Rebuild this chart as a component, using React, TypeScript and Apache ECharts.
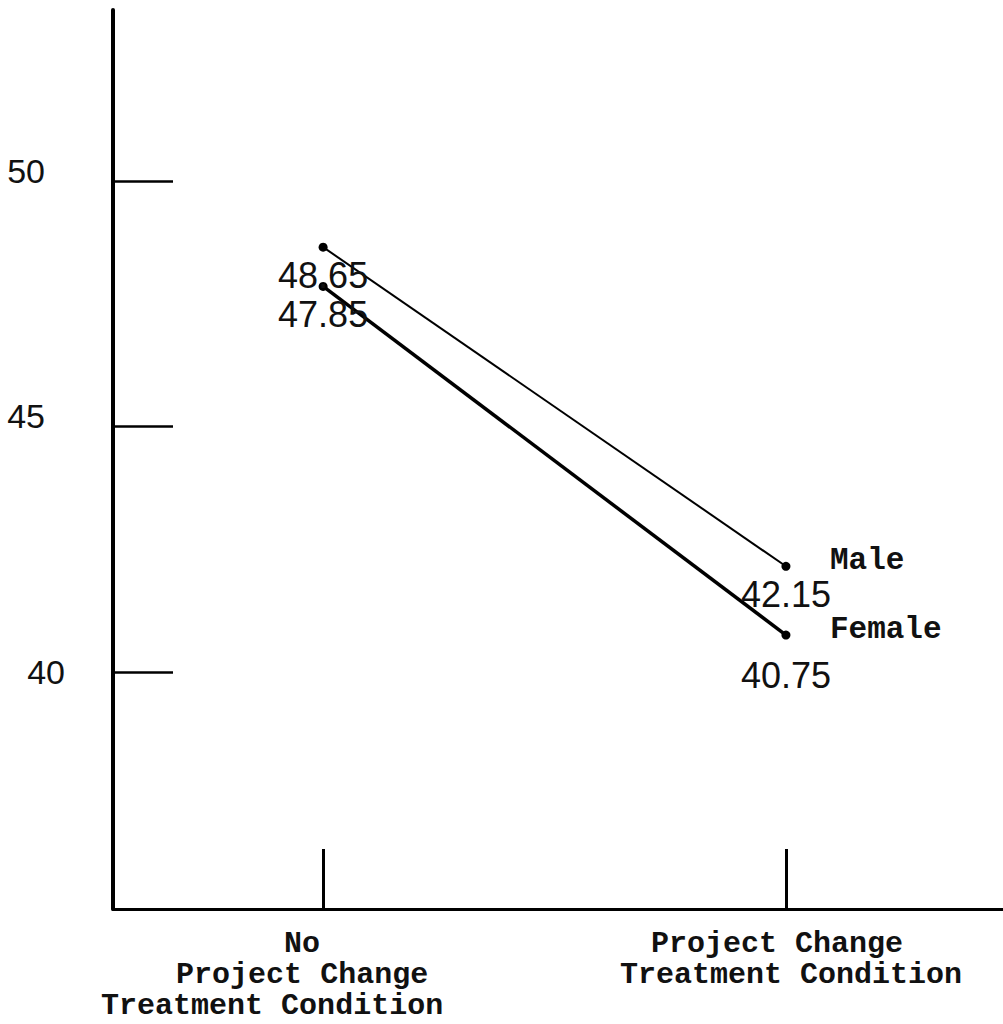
import React, { useEffect, useRef } from "react";
import * as echarts from "echarts";

const categories = ["No\nProject Change\nTreatment Condition", "Project Change\nTreatment Condition"];
const xPositions = [1, 2];
const seriesNames = ["Male", "Female"];
const maleValues = [48.65, 42.15];
const femaleValues = [47.85, 40.75];
const yTickValues = [40, 45, 50];

export default function App() {
  const ref = useRef<HTMLDivElement>(null);
  useEffect(() => {
    if (!ref.current) return;
    const chart = echarts.init(ref.current, null, { renderer: "svg" });
    const mono = "Liberation Mono";
    const hand = "Liberation Sans";
    const valueLabel = (dist: number) => ({
      show: true,
      position: "bottom",
      distance: dist,
      fontFamily: hand,
      fontSize: 36,
      color: "#111",
      formatter: (p: any) => Number(p.value[1]).toFixed(2),
    });
    const mk = (name: string, vals: number[], width: number, dists: number[]) => ({
      type: "line",
      name,
      data: xPositions.map((x, i) => ({ value: [x, vals[i]], label: valueLabel(dists[i]) })),
      symbol: "circle",
      symbolSize: 9,
      itemStyle: { color: "#000" },
      lineStyle: { color: "#000", width },
      endLabel: {
        show: true,
        formatter: "{a}",
        distance: 44,
        offset: [0, -6],
        fontFamily: mono,
        fontWeight: "bold",
        fontSize: 31,
        color: "#111",
      },
    });
    const xl = { fontFamily: mono, fontWeight: "bold", fontSize: 30, lineHeight: 31, color: "#111" };
    chart.setOption({
      animation: false,
      backgroundColor: "#fff",
      grid: { left: 113, right: 0, top: 10, bottom: 115, containLabel: false },
      xAxis: {
        type: "value",
        min: 0.546,
        max: 2.469,
        splitLine: { show: false },
        axisLine: { show: true, lineStyle: { color: "#000", width: 3 } },
        axisTick: {
          show: true,
          inside: true,
          length: 60,
          customValues: xPositions,
          lineStyle: { color: "#000", width: 3 },
        },
        axisLabel: {
          show: true,
          customValues: xPositions,
          margin: 19,
          ...xl,
          formatter: (v: number) => {
            const idx = xPositions.indexOf(v);
            if (idx < 0) return "";
            const lines = categories[idx].split("\n");
            if (idx === 0) {
              return lines
                .map((l, i) => (i === lines.length - 1 ? `{b|${l}}` : `{a|${l}}`))
                .join("\n");
            }
            return lines.map((l, i) => (i === 0 ? `{c|${l}}` : `{d|${l}}`)).join("\n");
          },
          rich: {
            a: { ...xl, padding: [0, 42, 0, 0] },
            b: { ...xl, padding: [0, 102, 0, 0] },
            c: { ...xl, padding: [0, 18, 0, 0] },
            d: { ...xl, padding: [0, 0, 0, 10] },
          },
        },
      },
      yAxis: {
        type: "value",
        min: 35.17,
        max: 53.48,
        splitLine: { show: false },
        axisLine: { show: true, lineStyle: { color: "#000", width: 4 } },
        axisTick: {
          show: true,
          inside: true,
          length: 60,
          customValues: yTickValues,
          lineStyle: { color: "#000", width: 2.5 },
        },
        axisLabel: {
          show: true,
          customValues: yTickValues,
          margin: 48,
          fontFamily: hand,
          fontSize: 34,
          color: "#111",
          formatter: (v: number) => (v === 40 ? `{b|${v}}` : `{a|${v}}`),
          rich: {
            a: { fontFamily: hand, fontSize: 34, color: "#111", padding: [0, 20, 20, 0] },
            b: { fontFamily: hand, fontSize: 34, color: "#111", padding: [0, 0, 0, 0] },
          },
        },
      },
      series: [
        mk(seriesNames[0], maleValues, 2, [6, 6]),
        mk(seriesNames[1], femaleValues, 3.5, [6, 18]),
      ],
    });
    return () => chart.dispose();
  }, []);
  return (
    <div
      ref={ref}
      style={{ position: "fixed", left: 0, top: 0, width: 1003, height: 1024, background: "#fff" }}
    />
  );
}
